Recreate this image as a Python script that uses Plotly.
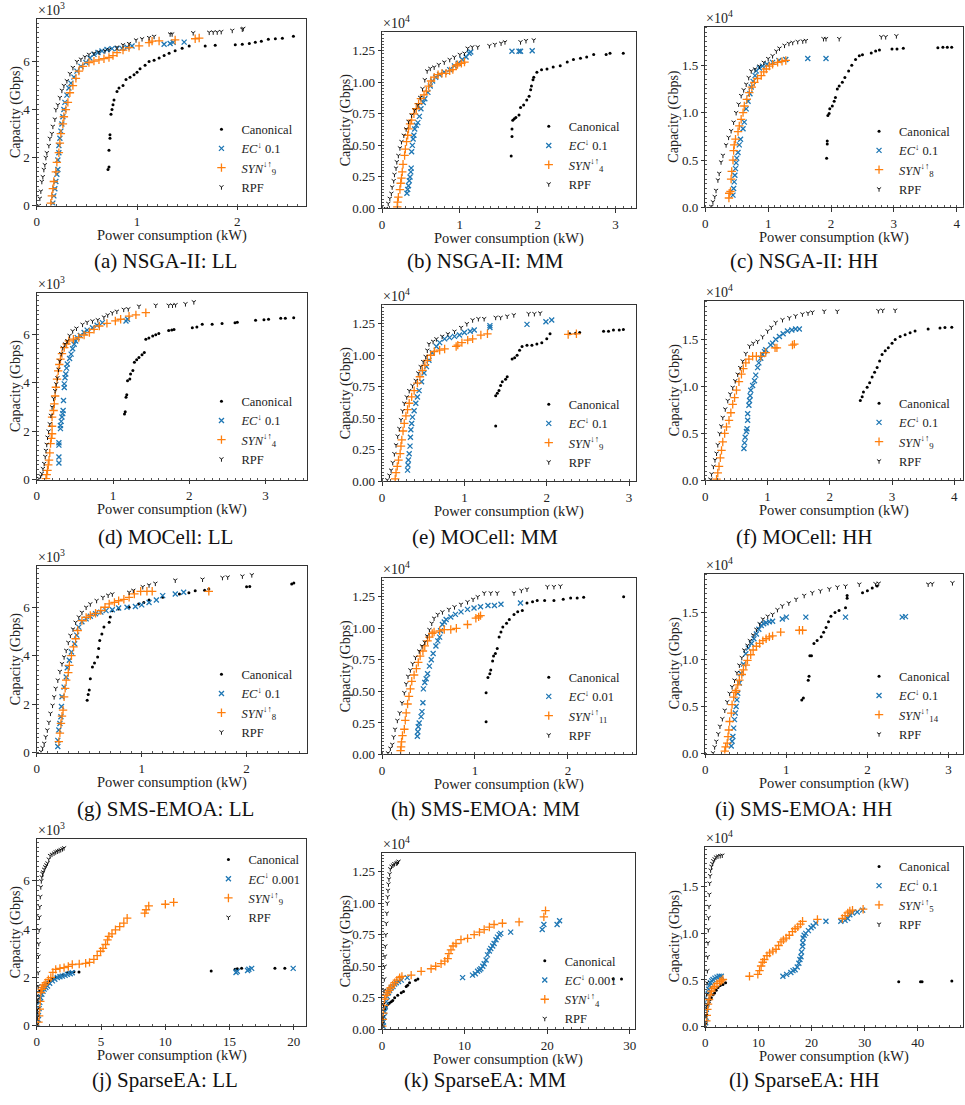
import plotly.graph_objects as go

# ---------------- DATA (x: power kW, y: capacity in axis units shown) ----------------
# (a) NSGA-II: LL  (y x10^3)
a_can = [(0.71,1.5),(0.72,1.6),(0.72,2.3),(0.73,2.8),(0.73,2.95),(0.74,3.8),(0.75,4.0),(0.76,4.2),(0.77,4.4),(0.80,4.75),(0.82,4.9),(0.86,5.0),(0.89,5.25),(0.93,5.35),(0.97,5.45),(1.0,5.55),(1.03,5.7),(1.08,5.85),(1.12,6.0),(1.17,6.05),(1.22,6.15),(1.27,6.25),(1.32,6.35),(1.38,6.45),(1.45,6.55),(1.52,6.65),(1.68,6.65),(1.78,6.68),(1.98,6.7),(2.05,6.72),(2.12,6.75),(2.18,6.8),(2.24,6.85),(2.31,6.93),(2.38,6.95),(2.45,6.97),(2.56,7.05)]
a_ec = [(0.16,0.1),(0.17,0.4),(0.18,0.7),(0.19,1.0),(0.20,1.3),(0.21,1.5),(0.21,1.9),(0.22,2.2),(0.22,2.5),(0.23,2.8),(0.24,3.1),(0.25,3.4),(0.26,3.7),(0.27,4.0),(0.28,4.3),(0.30,4.6),(0.32,4.9),(0.34,5.1),(0.37,5.35),(0.40,5.6),(0.44,5.8),(0.49,5.96),(0.53,6.15),(0.57,6.3),(0.61,6.38),(0.65,6.44),(0.70,6.5),(0.75,6.54),(0.80,6.54),(0.85,6.55),(0.90,6.6),(0.95,6.65),(1.27,6.72),(1.33,6.75),(1.36,6.8),(1.47,6.81)]
a_syn = [(0.14,0.1),(0.15,0.4),(0.16,0.7),(0.17,1.0),(0.19,1.4),(0.20,1.8),(0.22,2.2),(0.23,2.6),(0.24,3.0),(0.26,3.4),(0.27,3.7),(0.29,4.0),(0.31,4.3),(0.33,4.7),(0.36,5.0),(0.39,5.3),(0.42,5.6),(0.46,5.8),(0.52,5.96),(0.57,6.02),(0.62,6.07),(0.67,6.12),(0.72,6.17),(0.76,6.25),(0.80,6.37),(0.86,6.48),(0.92,6.58),(1.02,6.65),(1.12,6.79),(1.15,6.85),(1.22,6.86),(1.38,6.9),(1.58,6.95),(1.62,6.98)]
a_rpf = [(0.02,0.0),(0.03,0.3),(0.04,0.6),(0.05,1.0),(0.06,1.2),(0.07,1.5),(0.08,1.7),(0.09,2.0),(0.10,2.2),(0.12,2.5),(0.13,2.8),(0.15,3.0),(0.16,3.3),(0.18,3.6),(0.19,4.0),(0.21,4.2),(0.23,4.5),(0.25,4.8),(0.27,5.0),(0.30,5.2),(0.33,5.5),(0.36,5.75),(0.40,6.0),(0.44,6.1),(0.48,6.2),(0.52,6.3),(0.57,6.35),(0.62,6.4),(0.68,6.45),(0.72,6.5),(0.80,6.6),(0.86,6.7),(0.92,6.75),(0.99,6.9),(1.05,6.95),(1.12,7.0),(1.17,7.05),(1.33,7.15),(1.35,7.15),(1.56,7.2),(1.72,7.22),(1.76,7.23),(1.80,7.23),(1.84,7.25),(1.95,7.3),(2.05,7.35),(2.06,7.38)]

# (b) NSGA-II: MM  (y x10^4)
b_can = [(1.66,0.415),(1.67,0.57),(1.67,0.63),(1.68,0.70),(1.70,0.71),(1.72,0.72),(1.76,0.74),(1.78,0.80),(1.82,0.82),(1.86,0.86),(1.89,0.89),(1.91,0.94),(1.92,0.97),(1.94,1.02),(1.95,1.04),(1.99,1.08),(2.05,1.1),(2.12,1.105),(2.2,1.12),(2.29,1.13),(2.38,1.16),(2.46,1.18),(2.55,1.19),(2.63,1.2),(2.72,1.22),(2.88,1.22),(2.93,1.23),(3.1,1.23)]
b_ec = [(0.32,0.12),(0.33,0.15),(0.34,0.18),(0.35,0.22),(0.36,0.25),(0.37,0.29),(0.375,0.32),(0.38,0.45),(0.39,0.5),(0.40,0.55),(0.41,0.58),(0.42,0.63),(0.44,0.66),(0.46,0.68),(0.48,0.73),(0.50,0.79),(0.53,0.84),(0.55,0.87),(0.59,0.92),(0.62,0.97),(0.65,1.01),(0.69,1.04),(0.74,1.06),(0.80,1.08),(0.87,1.1),(0.93,1.13),(0.98,1.15),(1.03,1.18),(1.08,1.2),(1.12,1.23),(1.14,1.24),(1.67,1.245),(1.76,1.245),(1.78,1.245),(1.93,1.25)]
b_syn = [(0.196,0.013),(0.20,0.05),(0.21,0.09),(0.23,0.15),(0.24,0.2),(0.25,0.24),(0.26,0.29),(0.27,0.35),(0.29,0.42),(0.30,0.47),(0.315,0.53),(0.33,0.58),(0.34,0.63),(0.36,0.67),(0.38,0.70),(0.41,0.75),(0.44,0.79),(0.47,0.83),(0.50,0.87),(0.54,0.9),(0.57,0.93),(0.60,0.97),(0.63,1.01),(0.67,1.04),(0.72,1.06),(0.77,1.07),(0.82,1.07),(0.87,1.09),(0.91,1.1),(0.95,1.13),(0.97,1.14),(1.02,1.15),(1.06,1.16)]
b_rpf = [(0.05,0.0),(0.08,0.04),(0.10,0.08),(0.12,0.12),(0.13,0.17),(0.15,0.22),(0.16,0.27),(0.18,0.32),(0.19,0.37),(0.21,0.42),(0.23,0.48),(0.25,0.53),(0.28,0.58),(0.31,0.63),(0.34,0.69),(0.38,0.74),(0.42,0.78),(0.46,0.82),(0.49,0.88),(0.52,0.95),(0.55,1.02),(0.58,1.09),(0.62,1.11),(0.67,1.12),(0.73,1.14),(0.80,1.16),(0.87,1.18),(0.93,1.2),(1.0,1.22),(1.06,1.23),(1.10,1.27),(1.16,1.28),(1.23,1.28),(1.38,1.29),(1.45,1.3),(1.53,1.31),(1.58,1.32),(1.78,1.32),(1.85,1.33),(1.95,1.335)]

# (c) NSGA-II: HH  (y x10^4)
c_can = [(1.93,0.52),(1.94,0.67),(1.94,0.70),(1.95,0.97),(1.97,0.99),(1.98,1.04),(2.02,1.07),(2.05,1.12),(2.07,1.16),(2.1,1.25),(2.13,1.28),(2.18,1.32),(2.22,1.37),(2.28,1.44),(2.33,1.5),(2.39,1.56),(2.45,1.6),(2.5,1.61),(2.64,1.63),(2.71,1.65),(2.77,1.66),(2.97,1.67),(3.05,1.67),(3.15,1.68),(3.7,1.685),(3.78,1.69),(3.85,1.69),(3.92,1.69)]
c_ec = [(0.44,0.13),(0.45,0.2),(0.46,0.27),(0.47,0.34),(0.48,0.41),(0.49,0.47),(0.50,0.52),(0.52,0.58),(0.54,0.66),(0.56,0.72),(0.60,0.83),(0.62,0.9),(0.65,1.04),(0.68,1.12),(0.71,1.2),(0.73,1.27),(0.76,1.33),(0.79,1.39),(0.81,1.44),(0.86,1.47),(0.91,1.49),(0.98,1.51),(1.07,1.53),(1.17,1.55),(1.28,1.56),(1.63,1.57),(1.92,1.57)]
c_syn = [(0.375,0.1),(0.38,0.15),(0.40,0.17),(0.41,0.3),(0.42,0.38),(0.44,0.5),(0.45,0.6),(0.46,0.66),(0.48,0.72),(0.52,0.8),(0.54,0.86),(0.57,0.93),(0.60,1.0),(0.62,1.07),(0.66,1.14),(0.70,1.21),(0.74,1.27),(0.78,1.32),(0.83,1.36),(0.89,1.39),(0.93,1.43),(0.97,1.46),(1.02,1.49),(1.07,1.51),(1.15,1.53),(1.22,1.54),(1.28,1.55)]
c_rpf = [(0.095,0.01),(0.12,0.06),(0.15,0.115),(0.17,0.18),(0.2,0.29),(0.22,0.36),(0.25,0.48),(0.28,0.55),(0.33,0.66),(0.37,0.74),(0.41,0.81),(0.45,0.9),(0.49,1.0),(0.53,1.09),(0.57,1.18),(0.61,1.24),(0.65,1.3),(0.69,1.37),(0.73,1.44),(0.79,1.46),(0.86,1.49),(0.93,1.53),(1.0,1.57),(1.07,1.6),(1.13,1.65),(1.18,1.68),(1.26,1.71),(1.33,1.73),(1.39,1.74),(1.47,1.75),(1.55,1.755),(1.6,1.76),(1.88,1.78),(1.92,1.78),(2.13,1.78),(2.8,1.8),(2.87,1.8),(3.04,1.81)]

# (d) MOCell: LL  (y x10^3)
d_can = [(1.15,2.71),(1.16,2.8),(1.17,3.4),(1.18,3.5),(1.19,4.08),(1.22,4.15),(1.23,4.36),(1.26,4.5),(1.28,4.84),(1.31,4.95),(1.34,5.04),(1.38,5.15),(1.41,5.25),(1.43,5.79),(1.47,5.85),(1.52,5.93),(1.56,5.98),(1.60,6.03),(1.73,6.16),(1.77,6.18),(1.80,6.2),(2.04,6.27),(2.1,6.3),(2.17,6.41),(2.30,6.41),(2.43,6.44),(2.6,6.48),(2.63,6.5),(2.87,6.58),(2.98,6.6),(3.04,6.62),(3.2,6.66),(3.26,6.66),(3.37,6.68)]
d_ec = [(0.29,0.68),(0.29,0.93),(0.29,1.42),(0.29,1.52),(0.31,2.1),(0.31,2.23),(0.32,2.4),(0.33,2.58),(0.34,2.72),(0.345,2.85),(0.35,3.26),(0.36,3.8),(0.36,3.95),(0.37,4.2),(0.38,4.36),(0.39,4.6),(0.40,4.77),(0.43,5.0),(0.45,5.18),(0.47,5.4),(0.49,5.59),(0.51,5.72),(0.53,5.86),(0.57,5.95),(0.62,6.07),(0.66,6.17),(0.73,6.27),(0.79,6.37),(0.86,6.48),(1.17,6.55),(1.19,6.62)]
d_syn = [(0.12,0.04),(0.13,0.2),(0.14,0.38),(0.15,0.6),(0.16,0.8),(0.17,1.1),(0.18,1.48),(0.19,1.7),(0.20,1.89),(0.2,2.2),(0.2,2.58),(0.22,2.85),(0.23,3.12),(0.24,3.45),(0.25,3.81),(0.265,4.15),(0.28,4.49),(0.295,4.75),(0.31,4.97),(0.33,5.2),(0.36,5.45),(0.39,5.6),(0.42,5.73),(0.48,5.8),(0.55,5.86),(0.62,5.97),(0.69,6.07),(0.75,6.2),(0.82,6.34),(0.92,6.45),(1.03,6.55),(1.1,6.62),(1.21,6.75),(1.3,6.8),(1.43,6.89)]
d_rpf = [(0.03,0.04),(0.05,0.15),(0.065,0.25),(0.08,0.45),(0.096,0.66),(0.11,0.95),(0.12,1.2),(0.13,1.45),(0.14,1.75),(0.155,2.0),(0.17,2.3),(0.185,2.65),(0.2,3.0),(0.22,3.35),(0.24,3.67),(0.255,3.95),(0.27,4.2),(0.285,4.55),(0.30,4.9),(0.32,5.2),(0.34,5.45),(0.37,5.6),(0.40,5.73),(0.43,5.95),(0.47,6.14),(0.52,6.25),(0.60,6.41),(0.66,6.5),(0.73,6.55),(0.80,6.6),(0.88,6.71),(0.93,6.8),(0.99,6.89),(1.05,6.95),(1.14,7.03),(1.2,7.05),(1.34,7.16),(1.56,7.2),(1.73,7.2),(1.78,7.2),(1.82,7.22),(1.95,7.26),(2.06,7.34)]

# (e) MOCell: MM  (y x10^4)
e_can = [(1.38,0.44),(1.38,0.68),(1.40,0.70),(1.42,0.72),(1.44,0.76),(1.46,0.79),(1.50,0.81),(1.52,0.83),(1.58,0.97),(1.61,0.98),(1.64,1.0),(1.67,1.04),(1.70,1.07),(1.76,1.08),(1.82,1.08),(1.88,1.09),(1.94,1.1),(2.0,1.13),(2.04,1.17),(2.28,1.17),(2.35,1.175),(2.40,1.18),(2.69,1.19),(2.75,1.19),(2.81,1.2),(2.88,1.2),(2.93,1.205)]
e_ec = [(0.31,0.09),(0.315,0.13),(0.32,0.17),(0.33,0.22),(0.34,0.28),(0.345,0.35),(0.35,0.41),(0.36,0.46),(0.37,0.51),(0.39,0.56),(0.41,0.62),(0.43,0.67),(0.45,0.72),(0.48,0.79),(0.51,0.86),(0.54,0.91),(0.57,0.96),(0.61,1.02),(0.66,1.07),(0.70,1.1),(0.76,1.13),(0.82,1.14),(0.88,1.15),(0.94,1.16),(1.0,1.18),(1.07,1.19),(1.12,1.20),(1.31,1.22),(1.31,1.235),(1.76,1.245),(1.99,1.265),(2.06,1.28)]
e_syn = [(0.16,0.02),(0.17,0.07),(0.185,0.12),(0.2,0.17),(0.22,0.22),(0.23,0.28),(0.24,0.33),(0.255,0.4),(0.27,0.46),(0.29,0.52),(0.31,0.57),(0.33,0.62),(0.36,0.67),(0.39,0.72),(0.43,0.78),(0.46,0.83),(0.49,0.88),(0.52,0.92),(0.55,0.96),(0.59,1.0),(0.635,1.03),(0.70,1.04),(0.76,1.05),(0.90,1.07),(0.92,1.08),(0.97,1.1),(1.04,1.12),(1.10,1.13),(1.20,1.16),(1.28,1.17),(2.26,1.165),(2.36,1.17)]
e_rpf = [(0.064,0.013),(0.09,0.05),(0.11,0.09),(0.13,0.15),(0.15,0.22),(0.17,0.29),(0.19,0.36),(0.21,0.42),(0.23,0.49),(0.25,0.56),(0.27,0.62),(0.30,0.67),(0.33,0.72),(0.37,0.76),(0.41,0.80),(0.44,0.86),(0.47,0.91),(0.50,0.95),(0.53,0.99),(0.55,1.04),(0.57,1.09),(0.62,1.11),(0.66,1.13),(0.73,1.15),(0.80,1.17),(0.88,1.19),(0.96,1.22),(1.03,1.25),(1.10,1.28),(1.17,1.29),(1.24,1.29),(1.38,1.3),(1.44,1.3),(1.52,1.31),(1.60,1.32),(1.78,1.33),(1.85,1.33),(1.92,1.335)]

# (f) MOCell: HH  (y x10^4)
f_can = [(2.49,0.85),(2.52,0.89),(2.54,0.94),(2.60,0.99),(2.64,1.04),(2.68,1.1),(2.72,1.15),(2.76,1.2),(2.80,1.27),(2.84,1.34),(2.89,1.38),(2.94,1.41),(3.0,1.46),(3.05,1.5),(3.13,1.53),(3.21,1.55),(3.29,1.57),(3.37,1.59),(3.58,1.61),(3.77,1.62),(3.85,1.625),(3.96,1.63)]
f_ec = [(0.62,0.34),(0.63,0.4),(0.64,0.46),(0.66,0.52),(0.67,0.55),(0.68,0.64),(0.68,0.71),(0.70,0.8),(0.71,0.85),(0.72,0.9),(0.73,0.96),(0.76,1.01),(0.79,1.06),(0.81,1.12),(0.84,1.2),(0.86,1.25),(0.89,1.3),(0.92,1.34),(0.95,1.37),(0.97,1.39),(1.05,1.44),(1.08,1.46),(1.13,1.5),(1.19,1.53),(1.25,1.56),(1.32,1.59),(1.39,1.6),(1.45,1.61),(1.51,1.61)]
f_syn = [(0.18,0.014),(0.2,0.08),(0.22,0.15),(0.24,0.24),(0.26,0.32),(0.28,0.41),(0.31,0.5),(0.34,0.57),(0.38,0.64),(0.41,0.72),(0.44,0.81),(0.47,0.88),(0.50,0.96),(0.54,1.05),(0.58,1.13),(0.61,1.19),(0.65,1.25),(0.70,1.29),(0.76,1.32),(0.82,1.32),(0.89,1.32),(0.97,1.36),(1.12,1.41),(1.15,1.41),(1.40,1.44),(1.43,1.45)]
f_rpf = [(0.08,0.014),(0.1,0.07),(0.13,0.15),(0.155,0.22),(0.18,0.29),(0.2,0.38),(0.23,0.5),(0.255,0.58),(0.28,0.67),(0.32,0.76),(0.36,0.85),(0.4,0.92),(0.44,0.99),(0.48,1.06),(0.52,1.13),(0.56,1.2),(0.60,1.27),(0.65,1.35),(0.71,1.43),(0.77,1.46),(0.84,1.48),(0.92,1.53),(1.0,1.59),(1.06,1.63),(1.13,1.68),(1.24,1.71),(1.35,1.73),(1.45,1.75),(1.56,1.77),(1.65,1.78),(1.72,1.79),(1.91,1.8),(2.12,1.8),(2.78,1.805),(2.85,1.81),(3.05,1.81)]

# (g) SMS-EMOA: LL  (y x10^3)
g_can = [(0.48,2.16),(0.49,2.4),(0.50,2.58),(0.51,3.05),(0.53,3.53),(0.55,3.7),(0.58,3.95),(0.59,4.3),(0.60,4.63),(0.62,4.9),(0.64,5.18),(0.69,5.38),(0.70,5.6),(0.72,5.86),(0.78,5.93),(0.88,6.0),(0.97,6.14),(1.02,6.2),(1.07,6.3),(1.2,6.41),(1.36,6.55),(1.45,6.6),(1.51,6.68),(1.6,6.7),(1.64,6.75),(2.0,6.85),(2.03,6.86),(2.43,6.96),(2.45,7.0)]
g_ec = [(0.20,0.25),(0.20,0.5),(0.21,0.93),(0.22,1.2),(0.23,1.48),(0.235,1.9),(0.24,2.3),(0.26,2.7),(0.28,3.12),(0.29,3.5),(0.31,3.81),(0.33,4.15),(0.36,4.49),(0.38,4.85),(0.40,5.18),(0.43,5.4),(0.47,5.52),(0.51,5.63),(0.56,5.73),(0.61,5.8),(0.66,5.86),(0.72,5.9),(0.78,5.97),(0.86,6.0),(0.94,6.03),(1.0,6.1),(1.07,6.2),(1.14,6.3),(1.2,6.48),(1.32,6.55),(1.40,6.62)]
g_syn = [(0.21,0.45),(0.22,0.8),(0.23,1.2),(0.24,1.5),(0.25,1.75),(0.26,2.3),(0.27,2.65),(0.28,2.99),(0.30,3.3),(0.31,3.6),(0.33,4.0),(0.35,4.36),(0.37,4.7),(0.39,5.04),(0.43,5.45),(0.47,5.58),(0.51,5.66),(0.56,5.75),(0.61,5.86),(0.65,6.0),(0.69,6.14),(0.74,6.2),(0.78,6.27),(0.83,6.33),(0.88,6.41),(0.93,6.55),(0.99,6.66),(1.05,6.66),(1.10,6.66),(1.64,6.66)]
g_rpf = [(0.04,0.04),(0.055,0.2),(0.07,0.38),(0.085,0.65),(0.10,0.93),(0.115,1.25),(0.13,1.62),(0.15,1.95),(0.165,2.3),(0.18,2.65),(0.20,2.99),(0.22,3.35),(0.24,3.67),(0.26,3.95),(0.28,4.22),(0.30,4.55),(0.32,4.84),(0.345,5.1),(0.37,5.38),(0.40,5.6),(0.43,5.79),(0.47,6.0),(0.51,6.14),(0.57,6.28),(0.63,6.41),(0.68,6.5),(0.72,6.55),(0.88,6.62),(0.92,6.7),(1.01,6.85),(1.07,6.92),(1.13,6.99),(1.32,7.12),(1.58,7.16),(1.77,7.23),(1.82,7.25),(1.96,7.29),(2.05,7.34)]

# (h) SMS-EMOA: MM  (y x10^4)
h_can = [(1.12,0.26),(1.12,0.49),(1.14,0.61),(1.16,0.64),(1.17,0.67),(1.19,0.74),(1.20,0.78),(1.22,0.8),(1.24,0.84),(1.26,0.93),(1.28,0.97),(1.30,1.01),(1.34,1.04),(1.37,1.07),(1.42,1.11),(1.46,1.13),(1.51,1.14),(1.56,1.2),(1.62,1.21),(1.67,1.22),(1.75,1.22),(1.85,1.22),(1.95,1.23),(2.03,1.24),(2.1,1.24),(2.17,1.245),(2.6,1.25)]
h_ec = [(0.38,0.145),(0.385,0.18),(0.39,0.22),(0.40,0.25),(0.42,0.3),(0.43,0.34),(0.44,0.41),(0.445,0.52),(0.46,0.57),(0.475,0.6),(0.49,0.64),(0.51,0.7),(0.53,0.75),(0.55,0.8),(0.58,0.86),(0.60,0.9),(0.62,0.93),(0.63,0.98),(0.65,1.03),(0.67,1.05),(0.69,1.07),(0.74,1.09),(0.79,1.11),(0.85,1.13),(0.92,1.15),(0.99,1.16),(1.06,1.17),(1.14,1.18),(1.21,1.18),(1.28,1.19),(1.49,1.20)]
h_syn = [(0.20,0.03),(0.205,0.06),(0.21,0.1),(0.22,0.15),(0.24,0.2),(0.25,0.27),(0.26,0.33),(0.275,0.4),(0.29,0.46),(0.305,0.52),(0.32,0.58),(0.345,0.63),(0.37,0.68),(0.39,0.73),(0.41,0.78),(0.44,0.82),(0.46,0.86),(0.49,0.9),(0.51,0.93),(0.54,0.96),(0.56,0.97),(0.62,0.98),(0.67,0.99),(0.74,0.99),(0.80,1.0),(0.92,1.03),(1.01,1.08),(1.04,1.09),(1.06,1.10)]
h_rpf = [(0.064,0.013),(0.09,0.05),(0.11,0.08),(0.125,0.14),(0.14,0.2),(0.165,0.27),(0.19,0.33),(0.215,0.41),(0.24,0.49),(0.26,0.56),(0.28,0.62),(0.305,0.67),(0.33,0.72),(0.36,0.77),(0.40,0.82),(0.43,0.86),(0.46,0.89),(0.485,0.94),(0.51,0.99),(0.535,1.04),(0.56,1.08),(0.60,1.11),(0.65,1.13),(0.72,1.15),(0.78,1.17),(0.85,1.19),(0.92,1.21),(0.98,1.23),(1.03,1.25),(1.10,1.28),(1.17,1.28),(1.24,1.28),(1.42,1.28),(1.50,1.3),(1.56,1.31),(1.78,1.33),(1.85,1.33),(1.92,1.335)]

# (i) SMS-EMOA: HH  (y x10^4)
i_can = [(1.19,0.57),(1.21,0.59),(1.27,0.78),(1.28,0.82),(1.29,1.04),(1.31,1.04),(1.34,1.17),(1.38,1.2),(1.43,1.24),(1.46,1.29),(1.49,1.34),(1.52,1.4),(1.55,1.46),(1.6,1.5),(1.65,1.52),(1.73,1.55),(1.75,1.65),(1.75,1.68),(1.94,1.71),(2.0,1.73),(2.06,1.76),(2.12,1.78)]
i_ec = [(0.32,0.08),(0.33,0.13),(0.34,0.18),(0.35,0.27),(0.36,0.36),(0.37,0.43),(0.38,0.5),(0.39,0.57),(0.40,0.64),(0.42,0.75),(0.44,0.85),(0.47,0.95),(0.50,1.06),(0.53,1.12),(0.57,1.17),(0.60,1.22),(0.63,1.27),(0.66,1.32),(0.69,1.36),(0.72,1.38),(0.75,1.39),(0.79,1.4),(0.83,1.405),(0.95,1.43),(1.0,1.45),(1.24,1.45),(1.73,1.45),(2.43,1.45),(2.47,1.455)]
i_syn = [(0.24,0.025),(0.25,0.07),(0.27,0.11),(0.28,0.18),(0.29,0.25),(0.30,0.34),(0.32,0.43),(0.33,0.52),(0.35,0.6),(0.37,0.65),(0.38,0.67),(0.40,0.73),(0.42,0.78),(0.45,0.84),(0.47,0.89),(0.50,0.94),(0.52,0.99),(0.56,1.05),(0.59,1.1),(0.63,1.14),(0.67,1.17),(0.71,1.2),(0.75,1.22),(0.79,1.24),(0.83,1.25),(0.93,1.29),(1.16,1.31),(1.20,1.31)]
i_rpf = [(0.094,0.007),(0.115,0.07),(0.135,0.13),(0.16,0.21),(0.18,0.29),(0.21,0.37),(0.24,0.46),(0.27,0.55),(0.30,0.64),(0.33,0.71),(0.36,0.78),(0.39,0.86),(0.42,0.94),(0.45,1.02),(0.48,1.1),(0.52,1.15),(0.55,1.2),(0.59,1.26),(0.63,1.32),(0.67,1.38),(0.71,1.43),(0.77,1.46),(0.83,1.48),(0.89,1.53),(0.95,1.57),(1.03,1.6),(1.12,1.64),(1.22,1.68),(1.32,1.71),(1.42,1.73),(1.53,1.75),(1.63,1.77),(1.73,1.78),(1.90,1.80),(2.10,1.805),(2.14,1.81),(2.75,1.8),(2.80,1.805),(3.05,1.815)]

# (j) SparseEA: LL  (y x10^3)
j_can = [(0.0,0.07),(0.03,0.5),(0.05,0.96),(0.13,1.23),(0.23,1.44),(0.44,1.58),(0.6,1.68),(0.83,1.78),(1.0,1.85),(1.21,1.92),(1.47,1.99),(1.73,2.05),(2.0,2.1),(2.38,2.19),(2.6,2.2),(2.89,2.23),(3.28,2.22),(13.57,2.26),(15.43,2.33),(15.6,2.35),(15.94,2.37),(18.53,2.37),(19.3,2.37)]
j_ec = [(0.05,0.07),(0.1,0.25),(0.13,0.41),(0.18,0.7),(0.23,0.96),(0.3,1.15),(0.39,1.3),(0.48,1.42),(0.57,1.51),(0.7,1.58),(0.83,1.64),(1.0,1.75),(1.21,1.85),(1.4,1.92),(1.6,1.99),(1.8,2.02),(1.99,2.05),(2.2,2.08),(2.38,2.12),(2.6,2.15),(2.76,2.19),(15.5,2.2),(15.6,2.25),(16.4,2.28),(16.5,2.33),(16.72,2.37),(19.95,2.37)]
j_syn = [(0.13,0.14),(0.18,0.4),(0.23,0.68),(0.27,1.0),(0.31,1.37),(0.38,1.5),(0.44,1.58),(0.57,1.68),(0.7,1.78),(0.9,1.9),(1.09,1.99),(1.25,2.2),(1.47,2.33),(1.8,2.37),(2.12,2.40),(2.45,2.45),(2.76,2.53),(3.3,2.55),(3.8,2.58),(4.1,2.62),(4.44,2.74),(4.7,2.9),(4.96,3.08),(5.15,3.2),(5.35,3.36),(5.5,3.55),(5.61,3.70),(5.85,3.8),(6.12,3.97),(6.45,4.1),(6.77,4.25),(7.03,4.45),(8.4,4.66),(8.5,4.8),(8.71,4.96),(10.0,5.03),(10.65,5.11)]
j_rpf = [(0.0,0.03),(0.03,0.35),(0.05,0.68),(0.07,1.1),(0.1,1.64),(0.11,2.2),(0.13,2.88),(0.15,3.4),(0.18,3.97),(0.2,4.5),(0.23,4.93),(0.27,5.35),(0.31,5.75),(0.35,6.0),(0.39,6.16),(0.44,6.3),(0.49,6.37),(0.57,6.48),(0.65,6.58),(0.74,6.66),(0.83,6.74),(0.93,6.9),(1.03,7.05),(1.18,7.1),(1.34,7.15),(1.47,7.2),(1.6,7.23),(1.73,7.26),(1.86,7.29),(2.0,7.33),(2.12,7.37)]

# (k) SparseEA: MM  (y x10^4)
k_can = [(0.04,0.05),(0.15,0.1),(0.32,0.16),(0.5,0.18),(0.72,0.2),(0.9,0.21),(1.12,0.22),(1.3,0.23),(1.53,0.25),(1.9,0.27),(2.33,0.29),(2.6,0.3),(2.93,0.34),(3.1,0.35),(3.33,0.37),(4.06,0.39),(4.34,0.40),(28.0,0.40),(29.0,0.40)]
k_ec = [(0.12,0.026),(0.18,0.06),(0.24,0.1),(0.32,0.14),(0.4,0.18),(0.52,0.22),(0.64,0.26),(0.78,0.29),(0.92,0.31),(1.12,0.33),(1.33,0.34),(1.53,0.36),(1.73,0.37),(2.0,0.38),(2.33,0.39),(3.05,0.41),(9.76,0.41),(10.96,0.43),(11.3,0.44),(11.57,0.46),(11.8,0.47),(11.97,0.48),(12.2,0.5),(12.37,0.52),(12.6,0.55),(12.77,0.59),(13.0,0.62),(13.17,0.64),(13.4,0.66),(13.57,0.68),(13.8,0.71),(13.98,0.73),(14.2,0.75),(14.38,0.76),(15.58,0.77),(19.4,0.79),(19.6,0.83),(21.2,0.83),(21.5,0.86)]
k_syn = [(0.04,0.026),(0.1,0.08),(0.16,0.13),(0.24,0.19),(0.32,0.24),(0.48,0.27),(0.64,0.29),(0.84,0.31),(1.04,0.33),(1.3,0.35),(1.53,0.37),(1.8,0.39),(2.13,0.41),(2.41,0.42),(3.53,0.43),(4.74,0.46),(5.94,0.48),(6.5,0.5),(7.15,0.52),(7.6,0.54),(7.95,0.56),(8.1,0.6),(8.35,0.63),(8.6,0.66),(8.96,0.68),(9.56,0.71),(10.36,0.72),(11.16,0.75),(11.8,0.77),(12.37,0.79),(13.0,0.81),(13.57,0.83),(14.58,0.84),(16.6,0.85),(19.6,0.89),(19.8,0.94)]
k_rpf = [(0.04,0.013),(0.08,0.05),(0.12,0.1),(0.18,0.2),(0.24,0.31),(0.28,0.4),(0.32,0.5),(0.36,0.58),(0.4,0.66),(0.46,0.75),(0.52,0.84),(0.58,0.92),(0.64,1.0),(0.68,1.05),(0.72,1.1),(0.78,1.15),(0.84,1.19),(0.92,1.23),(1.0,1.27),(1.15,1.29),(1.33,1.30),(1.5,1.31),(1.73,1.315),(1.87,1.32),(2.0,1.33)]

# (l) SparseEA: HH  (y x10^4)
l_can = [(0.06,0.04),(0.19,0.12),(0.31,0.185),(0.5,0.23),(0.69,0.26),(0.9,0.29),(1.13,0.31),(1.45,0.34),(1.75,0.36),(2.05,0.39),(2.38,0.42),(2.8,0.44),(3.31,0.45),(3.81,0.47),(36.4,0.48),(40.5,0.48),(40.8,0.48),(46.4,0.49)]
l_ec = [(0.06,0.04),(0.12,0.1),(0.19,0.185),(0.28,0.24),(0.375,0.29),(0.5,0.35),(0.63,0.40),(0.8,0.44),(0.94,0.47),(1.2,0.49),(1.44,0.505),(1.8,0.52),(2.19,0.53),(2.6,0.54),(3.0,0.54),(14.6,0.54),(15.3,0.56),(16.1,0.58),(16.5,0.6),(16.9,0.61),(17.3,0.64),(17.6,0.68),(17.8,0.72),(18.0,0.75),(18.1,0.8),(18.3,0.86),(18.35,0.9),(18.4,0.95),(18.6,0.98),(18.9,1.0),(19.4,1.03),(19.9,1.06),(20.3,1.08),(20.8,1.11),(22.7,1.13),(25.5,1.13),(26.3,1.14),(26.8,1.16),(27.2,1.2),(27.7,1.22),(28.6,1.23),(29.6,1.25)]
l_syn = [(0.19,0.06),(0.28,0.12),(0.375,0.185),(0.5,0.24),(0.69,0.29),(0.9,0.34),(1.13,0.38),(1.45,0.41),(1.75,0.43),(2.2,0.46),(2.69,0.48),(3.0,0.49),(3.31,0.505),(8.31,0.54),(9.88,0.56),(10.2,0.6),(10.5,0.65),(10.8,0.69),(11.1,0.72),(11.6,0.76),(12.1,0.79),(12.7,0.81),(13.3,0.83),(13.8,0.87),(14.25,0.91),(14.7,0.93),(15.2,0.95),(15.8,0.98),(16.4,1.02),(16.9,1.05),(17.4,1.07),(17.9,1.1),(18.3,1.13),(21.1,1.15),(25.8,1.16),(26.3,1.19),(26.8,1.22),(27.2,1.24),(27.7,1.25),(29.7,1.26)]
l_rpf = [(0.06,0.025),(0.12,0.12),(0.19,0.22),(0.25,0.35),(0.31,0.47),(0.38,0.6),(0.44,0.75),(0.5,0.9),(0.56,1.04),(0.62,1.17),(0.69,1.29),(0.75,1.42),(0.81,1.54),(0.9,1.62),(1.0,1.68),(1.15,1.72),(1.31,1.75),(1.5,1.78),(1.75,1.80),(2.0,1.82),(2.38,1.83),(2.8,1.835),(3.19,1.84)]

captions = ["(a) NSGA-II: LL", "(b) NSGA-II: MM", "(c) NSGA-II: HH",
            "(d) MOCell: LL", "(e) MOCell: MM", "(f) MOCell: HH",
            "(g) SMS-EMOA: LL", "(h) SMS-EMOA: MM", "(i) SMS-EMOA: HH",
            "(j) SparseEA: LL", "(k) SparseEA: MM", "(l) SparseEA: HH"]
ec_labels = ["0.1", "0.1", "0.1", "0.1", "0.1", "0.1", "0.1", "0.01", "0.1", "0.001", "0.001", "0.1"]
syn_labels = ["9", "4", "8", "4", "9", "9", "8", "11", "14", "9", "4", "5"]
series = [(a_can, a_ec, a_syn, a_rpf), (b_can, b_ec, b_syn, b_rpf), (c_can, c_ec, c_syn, c_rpf),
          (d_can, d_ec, d_syn, d_rpf), (e_can, e_ec, e_syn, e_rpf), (f_can, f_ec, f_syn, f_rpf),
          (g_can, g_ec, g_syn, g_rpf), (h_can, h_ec, h_syn, h_rpf), (i_can, i_ec, i_syn, i_rpf),
          (j_can, j_ec, j_syn, j_rpf), (k_can, k_ec, k_syn, k_rpf), (l_can, l_ec, l_syn, l_rpf)]
kinds = ["LL", "MM", "HH"] * 4

# ---------------- LAYOUT (pixels) ----------------
W, H = 965, 1105
# x0, x1, ytop, ybottom
doms = [(34, 305, 19, 207), (381, 636, 32, 210), (706, 965, 27, 209),
        (34, 306, 295, 483), (381, 636, 307, 485), (706, 965, 303, 484),
        (34, 306, 570, 758), (381, 636, 582, 760), (706, 965, 578, 759),
        (34, 305, 845, 1033), (381, 635, 859, 1037), (706, 965, 853, 1034)]
xranges = [2.69, 3.26, 4.10, 3.55, 3.08, 4.14, 2.58, 2.73, 3.18, 20.98, 30.6, 48.5]
yranges = [7.78, 1.40, 1.905, 7.71, 1.40, 1.91, 7.71, 1.40, 1.91, 7.74, 1.397, 1.93]
xticks = [[0, 1, 2], [0, 1, 2, 3], [0, 1, 2, 3, 4], [0, 1, 2, 3], [0, 1, 2, 3], [0, 1, 2, 3, 4],
          [0, 1, 2], [0, 1, 2], [0, 1, 2, 3], [0, 5, 10, 15, 20], [0, 10, 20, 30], [0, 10, 20, 30, 40]]
xminor = [0.1, 0.1, 0.1, 0.1, 0.1, 0.1, 0.1, 0.1, 0.1, 1, 1, 2]
yinfo = {"LL": ([0, 2, 4, 6], "{:.0f}", 0.2, "3", 21),
         "MM": ([0, 0.25, 0.5, 0.75, 1.0, 1.25], "{:.2f}", 0.025, "4", 36),
         "HH": ([0, 0.5, 1.0, 1.5], "{:.1f}", 0.05, "4", 31)}
# legend: (x right px, y px, yanchor)
legpos = [(297, 203, "bottom"), (626, 200, "bottom"), (958, 205, "bottom"),
          (297, 477, "bottom"), (626, 480, "bottom"), (958, 479, "bottom"),
          (297, 752, "bottom"), (626, 755, "bottom"), (958, 754, "bottom"),
          (305, 851, "top"), (623, 953, "top"), (958, 858, "top")]
capcenters = [(163, 263), (485, 263), (805, 263), (163, 541), (485, 541), (805, 541),
              (163, 815), (485, 815), (805, 815), (163, 1088), (485, 1088), (805, 1088)]

FONT = "Liberation Serif"
TXT = "#222222"
BLUE = "#1f77b4"
ORANGE = "#ff7f0e"


def px_x(p):
    return p / W


def px_y(p):
    return 1 - p / H


fig = go.Figure()
annotations = []
layout = {}

for i in range(12):
    sfx = "" if i == 0 else str(i + 1)
    xa, ya = "x" + sfx, "y" + sfx
    leg = "legend" + sfx
    can, ec, syn, rpf = series[i]
    specs = [
        (can, "Canonical", dict(symbol="circle", size=3, color="black")),
        (ec, "<i>EC</i><sup>↓</sup> " + ec_labels[i],
         dict(symbol="x-thin-open", size=5, color=BLUE, line=dict(color=BLUE, width=1.3))),
        (syn, "<i>SYN</i><sup>↓↑</sup><sub>" + syn_labels[i] + "</sub>",
         dict(symbol="cross-thin-open", size=6, color=ORANGE, line=dict(color=ORANGE, width=1.3))),
        (rpf, "RPF", dict(symbol="y-down-open", size=3.5, color="black", line=dict(color="black", width=0.9))),
    ]
    for pts, name, mk in specs:
        fig.add_trace(go.Scatter(
            x=[p[0] for p in pts], y=[p[1] for p in pts], mode="markers", name=name,
            marker=mk, xaxis=xa, yaxis=ya, legend=leg, showlegend=True, cliponaxis=True))

    x0, x1, yt, yb = doms[i]
    kind = kinds[i]
    yt_vals, yfmt, ymin, expo, ytoff = yinfo[kind]
    axcommon = dict(showgrid=False, zeroline=False, showline=True, linecolor="#333333", linewidth=1,
                    mirror=True, ticks="outside", ticklen=3.5, tickcolor="#333333", tickwidth=1,
                    tickfont=dict(family=FONT, size=13, color=TXT))
    layout["xaxis" + sfx] = dict(axcommon, domain=[px_x(x0), px_x(x1)], range=[0, xranges[i]],
                                  anchor=ya, tickmode="array", tickvals=xticks[i],
                                  ticktext=[str(v) for v in xticks[i]],
                                  minor=dict(ticks="inside", ticklen=2, dtick=xminor[i], tick0=0,
                                             tickcolor="#555555"))
    layout["yaxis" + sfx] = dict(axcommon, domain=[px_y(yb), px_y(yt)], range=[0, yranges[i]],
                                  anchor=xa, tickmode="array", tickvals=yt_vals,
                                  ticktext=[yfmt.format(v) for v in yt_vals],
                                  minor=dict(ticks="inside", ticklen=2, dtick=ymin, tick0=0,
                                             tickcolor="#555555"))
    lx, ly, yanc = legpos[i]
    layout[leg] = dict(x=px_x(lx), y=px_y(ly), xanchor="right", yanchor=yanc,
                       bgcolor="rgba(0,0,0,0)", borderwidth=0,
                       font=dict(family=FONT, size=12.5, color=TXT),
                       itemwidth=30, tracegroupgap=0)
    # exponent label
    annotations.append(dict(text="×10<sup>" + expo + "</sup>", x=px_x(x0 - 1), y=px_y(yt + 1),
                            xref="paper", yref="paper", xanchor="left", yanchor="bottom",
                            showarrow=False, font=dict(family=FONT, size=14, color=TXT)))
    # axis titles
    annotations.append(dict(text="Power consumption (kW)", x=px_x((x0 + min(x1, 965)) / 2),
                            y=px_y(yb + 30), xref="paper", yref="paper", xanchor="center",
                            yanchor="middle", showarrow=False,
                            font=dict(family=FONT, size=14.5, color=TXT)))
    annotations.append(dict(text="Capacity (Gbps)", x=px_x(x0 - ytoff), y=px_y((yt + yb) / 2),
                            xref="paper", yref="paper", xanchor="center", yanchor="middle",
                            textangle=-90, showarrow=False,
                            font=dict(family=FONT, size=14, color=TXT)))
    cx, cy = capcenters[i]
    annotations.append(dict(text=captions[i], x=px_x(cx), y=px_y(cy), xref="paper", yref="paper",
                            xanchor="center", yanchor="middle", showarrow=False,
                            font=dict(family=FONT, size=21, color="#111111")))

fig.update_layout(**layout)
fig.update_layout(width=W, height=H, margin=dict(l=0, r=0, t=0, b=0),
                  paper_bgcolor="white", plot_bgcolor="white",
                  annotations=annotations, font=dict(family=FONT))
fig.write_html("out.html")
